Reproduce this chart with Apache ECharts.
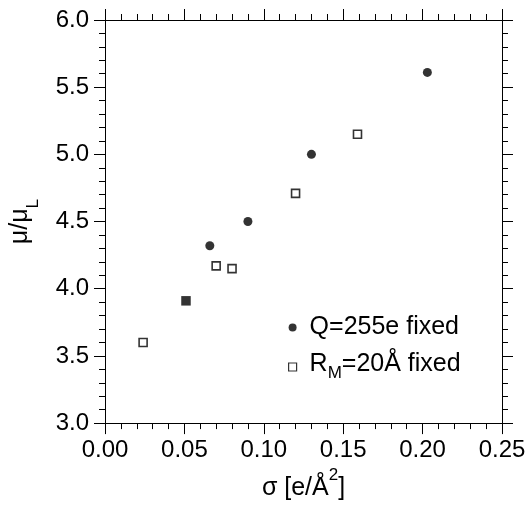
<!DOCTYPE html>
<html>
<head>
<meta charset="utf-8">
<script src="https://cdn.jsdelivr.net/npm/echarts@6/dist/echarts.min.js"></script>
<style>html,body{margin:0;padding:0;background:#fff}#c{width:530px;height:506px}</style>
</head>
<body>
<div id="c"></div>
<script>
// Data
const chargeFixedSigma = [0.066, 0.090, 0.130, 0.203];
const chargeFixedMu = [4.32, 4.50, 5.00, 5.61];
const radiusFixedSigma = [0.024, 0.070, 0.080, 0.120, 0.159];
const radiusFixedMu = [3.60, 4.17, 4.15, 4.71, 5.15];
const sharedSigma = [0.051];
const sharedMu = [3.91];
const xTicks = [0.00, 0.05, 0.10, 0.15, 0.20, 0.25];
const yTicks = [3.0, 3.5, 4.0, 4.5, 5.0, 5.5, 6.0];

const FONT = '"Liberation Sans", Arial, sans-serif';
const pair = (xs, ys) => xs.map((x, i) => [x, ys[i]]);

const tickStyle = { color: '#000', width: 1 };
function xAx(pos, showLabel) {
  return {
    type: 'value', position: pos, min: xTicks[0], max: xTicks[xTicks.length - 1], interval: 0.05,
    axisLine: { show: true, onZero: false, lineStyle: { color: '#000', width: 1 } },
    axisTick: { show: true, inside: false, length: 11, lineStyle: tickStyle },
    minorTick: { show: true, splitNumber: 5, length: 6, lineStyle: tickStyle },
    splitLine: { show: false },
    axisLabel: { show: showLabel, margin: 15, color: '#000', fontSize: 24, fontFamily: FONT,
      formatter: v => v.toFixed(2) },
    name: showLabel ? '{a|σ [e/Å}{sup|2}{a|]}' : '',
    nameLocation: 'middle', nameGap: 42,
    nameTextStyle: { color: '#000', fontFamily: FONT,
      rich: {
        a: { fontSize: 25, fontFamily: FONT, color: '#000', lineHeight: 34, verticalAlign: 'bottom' },
        sup: { fontSize: 17, fontFamily: FONT, color: '#000', lineHeight: 17, verticalAlign: 'top' }
      } }
  };
}
function yAx(pos, showLabel) {
  return {
    type: 'value', position: pos, min: yTicks[0], max: yTicks[yTicks.length - 1], interval: 0.5,
    axisLine: { show: true, onZero: false, lineStyle: { color: '#000', width: 1 } },
    axisTick: { show: true, inside: false, length: 11, lineStyle: tickStyle },
    minorTick: { show: true, splitNumber: 5, length: 6, lineStyle: tickStyle },
    splitLine: { show: false },
    axisLabel: { show: showLabel, margin: 16, color: '#000', fontSize: 24, fontFamily: FONT,
      formatter: v => v.toFixed(1) },
    name: showLabel ? '{a|μ/μ}{sub|L}' : '',
    nameLocation: 'middle', nameGap: 63, nameRotate: 90,
    nameTextStyle: { color: '#000', fontFamily: FONT,
      rich: {
        a: { fontSize: 25, fontFamily: FONT, color: '#000', lineHeight: 34, verticalAlign: 'top' },
        sub: { fontSize: 17, fontFamily: FONT, color: '#000', lineHeight: 17, verticalAlign: 'bottom' }
      } }
  };
}

const chart = echarts.init(document.getElementById('c'), null, { renderer: 'canvas' });
chart.setOption({
  animation: false,
  backgroundColor: '#fff',
  grid: { left: 96.5, right: 28, top: 20, bottom: 80, containLabel: false },
  xAxis: [xAx('bottom', true), xAx('top', false)],
  yAxis: [yAx('left', true), yAx('right', false)],
  legend: {
    orient: 'vertical', left: 283, top: 310, itemGap: 12,
    itemWidth: 8, itemHeight: 8, selectedMode: false,
    data: [
      { name: 'Q=255e fixed', icon: 'circle', itemStyle: { color: '#000', borderWidth: 0 } },
      { name: 'R_M=20Å fixed', icon: 'rect', itemStyle: { color: '#fff', borderColor: '#000', borderWidth: 1.2 } }
    ],
    formatter: function (n) {
      if (n === 'Q=255e fixed') return '{a|Q=255e fixed}';
      return '{b|R}{sub|M}{c|=20Å fixed}';
    },
    textStyle: {
      color: '#000', fontFamily: FONT,
      rich: {
        a: { fontSize: 25, fontFamily: FONT, color: '#000', lineHeight: 30, padding: [0, 0, 0, 8] },
        b: { fontSize: 25, fontFamily: FONT, color: '#000', lineHeight: 30, padding: [0, 0, 0, 8], verticalAlign: 'top' },
        c: { fontSize: 25, fontFamily: FONT, color: '#000', lineHeight: 30, verticalAlign: 'top' },
        sub: { fontSize: 17, fontFamily: FONT, color: '#000', lineHeight: 6, verticalAlign: 'bottom' }
      }
    }
  },
  series: [
    { name: 'Q=255e fixed', type: 'scatter', xAxisIndex: 0, yAxisIndex: 0,
      symbol: 'circle', symbolSize: 9, itemStyle: { color: '#000' },
      data: pair(chargeFixedSigma, chargeFixedMu) },
    { name: 'R_M=20Å fixed', type: 'scatter', xAxisIndex: 0, yAxisIndex: 0,
      symbol: 'rect', symbolSize: 8, itemStyle: { color: '#fff', borderColor: '#000', borderWidth: 1.6 },
      data: pair(radiusFixedSigma, radiusFixedMu) },
    { name: 'shared', type: 'scatter', xAxisIndex: 0, yAxisIndex: 0,
      symbol: 'rect', symbolSize: 9.5, itemStyle: { color: '#000' },
      data: pair(sharedSigma, sharedMu) }
  ]
});
</script>
</body>
</html>
